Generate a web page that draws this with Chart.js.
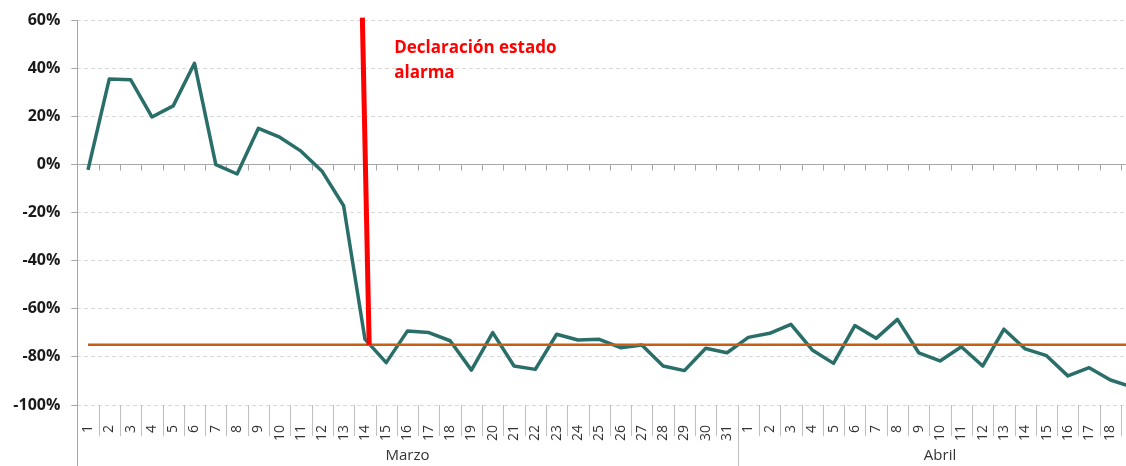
<!DOCTYPE html>
<html><head><meta charset="utf-8">
<script src="https://cdn.jsdelivr.net/npm/chart.js@4.4.0/dist/chart.umd.min.js"></script>
<style>
html,body{margin:0;padding:0;overflow:hidden;background:#fff;width:1126px;height:466px}
#wrap{position:relative;width:1150px;height:466px}
</style>
</head><body><div id="wrap"><canvas id="c" width="1150" height="466"></canvas></div>
<script>
// ---- data ----
const marchDays = ['1','2','3','4','5','6','7','8','9','10','11','12','13','14','15','16','17','18','19','20','21','22','23','24','25','26','27','28','29','30','31'];
const aprilDays = ['1','2','3','4','5','6','7','8','9','10','11','12','13','14','15','16','17','18','19'];
const monthNames = ['Marzo','Abril'];
const marchValues = [-2.3, 35.5, 35.2, 19.7, 24.3, 42.0, -0.1, -4.0, 15.0, 11.3, 5.5, -3.0, -17.2, -72.6, -82.4, -69.2, -69.9, -73.3, -85.5, -69.9, -83.8, -85.2, -70.6, -73.0, -72.7, -76.2, -75.1, -83.8, -85.7, -76.4, -78.3];
const aprilValues = [-71.9, -70.2, -66.5, -77.1, -82.7, -67.0, -72.3, -64.4, -78.3, -81.7, -75.8, -83.8, -68.5, -76.7, -79.5, -87.9, -84.5, -89.6, -92.5];
const referenceLevel = [-75,-75,-75,-75,-75,-75,-75,-75,-75,-75,-75,-75,-75,-75,-75,-75,-75,-75,-75,-75,-75,-75,-75,-75,-75,-75,-75,-75,-75,-75,-75,-75,-75,-75,-75,-75,-75,-75,-75,-75,-75,-75,-75,-75,-75,-75,-75,-75,-75,-75];
const alarmLineX = [12.88, 13.2];
const alarmLineY = [61, -75];
const alarmText = ['Declaración estado', 'alarma'];
const yTicks = [60, 40, 20, 0, -20, -40, -60, -80, -100];

const labels = marchDays.concat(aprilDays);
const values = marchValues.concat(aprilValues);
const alarmPoints = alarmLineX.map((x, i) => ({x: x, y: alarmLineY[i]}));

const FONT = "'Open Sans', 'Liberation Sans', sans-serif";
const AXIS_GRAY = '#a6a6a6';

const decor = {
  id: 'decor',
  beforeDatasetsDraw(chart) {
    const {ctx, chartArea: a, scales: {x, y}} = chart;
    const H = chart.height;
    const w = x.getPixelForValue(1) - x.getPixelForValue(0);
    const y0 = Math.round(y.getPixelForValue(0)) + 0.5;
    ctx.save();
    ctx.strokeStyle = AXIS_GRAY;
    ctx.lineWidth = 1;
    ctx.setLineDash([]);
    ctx.beginPath();
    ctx.moveTo(a.left - 6, y0); ctx.lineTo(a.right, y0);
    for (let k = 1; k <= labels.length; k++) {
      const bx = Math.round(x.getPixelForValue(k - 1) + w / 2) + 0.5;
      ctx.moveTo(bx, y0); ctx.lineTo(bx, y0 + 6);
    }
    ctx.stroke();
    ctx.strokeStyle = '#bfbfbf';
    ctx.beginPath();
    for (let k = 1; k < labels.length; k++) {
      const bx = Math.round(x.getPixelForValue(k - 1) + w / 2) + 0.5;
      const end = (k === marchDays.length) ? H : a.bottom + 31;
      ctx.moveTo(bx, a.bottom); ctx.lineTo(bx, end);
    }
    ctx.stroke();
    ctx.strokeStyle = AXIS_GRAY;
    ctx.beginPath();
    const ax = Math.round(a.left) + 0.5;
    ctx.moveTo(ax, a.top); ctx.lineTo(ax, H);
    ctx.stroke();
    ctx.fillStyle = '#333333';
    ctx.font = "15px " + FONT;
    ctx.textAlign = 'center';
    ctx.textBaseline = 'middle';
    const mx = (x.getPixelForValue(0) + x.getPixelForValue(marchDays.length - 1)) / 2;
    const ax2 = (x.getPixelForValue(marchDays.length) + x.getPixelForValue(labels.length - 1)) / 2;
    ctx.fillText(monthNames[0], mx, 456);
    ctx.fillText(monthNames[1], ax2, 456);
    ctx.restore();
  },
  afterDatasetsDraw(chart) {
    const {ctx, scales: {x}} = chart;
    ctx.save();
    ctx.fillStyle = '#ff0000';
    ctx.font = "bold 17px " + FONT;
    ctx.textAlign = 'left';
    ctx.textBaseline = 'middle';
    const tx = x.getPixelForValue(14) + 8;
    ctx.fillText(alarmText[0], tx, 48);
    ctx.fillText(alarmText[1], tx, 73);
    ctx.restore();
  }
};

new Chart(document.getElementById('c'), {
  type: 'line',
  data: {
    labels: labels,
    datasets: [
      {
        data: values,
        borderColor: '#2a6e69',
        borderWidth: 3.5,
        pointRadius: 0,
        tension: 0,
        borderJoinStyle: 'round',
        order: 3
      },
      {
        data: referenceLevel,
        borderColor: '#c65e14',
        borderWidth: 2.5,
        pointRadius: 0,
        tension: 0,
        order: 2
      },
      {
        data: alarmPoints,
        xAxisID: 'x2',
        borderColor: '#ff0000',
        borderWidth: 5,
        pointRadius: 0,
        tension: 0,
        borderCapStyle: 'butt',
        clip: false,
        order: 1
      }
    ]
  },
  options: {
    responsive: false,
    animation: false,
    events: [],
    layout: {padding: {top: 20, right: 7.6, left: 0, bottom: 0}},
    plugins: {legend: {display: false}, tooltip: {enabled: false}},
    scales: {
      x: {
        type: 'category',
        offset: true,
        grid: {display: false},
        border: {display: false},
        ticks: {
          autoSkip: false,
          minRotation: 90,
          maxRotation: 90,
          padding: 12,
          color: '#333333',
          font: {family: FONT, size: 14}
        },
        afterFit(s) { s.height = 61; s.paddingLeft = 0; s.paddingRight = 0; }
      },
      x2: {
        type: 'linear',
        display: false,
        min: -0.5,
        max: labels.length - 0.5
      },
      y: {
        min: -100,
        max: 60,
        afterBuildTicks(s) { s.ticks = yTicks.map(v => ({value: v})); },
        ticks: {
          callback: v => v + '%',
          padding: 11,
          color: '#1a1a1a',
          font: {family: FONT, size: 16, weight: 'bold'}
        },
        grid: {
          color: '#d9d9d9',
          tickColor: AXIS_GRAY,
          tickLength: 6
        },
        border: {display: false, dash: [4, 3]},
        afterFit(s) { s.width = 77.35; s.paddingTop = 0; s.paddingBottom = 0; }
      }
    }
  },
  plugins: [decor]
});
</script>
</body></html>
